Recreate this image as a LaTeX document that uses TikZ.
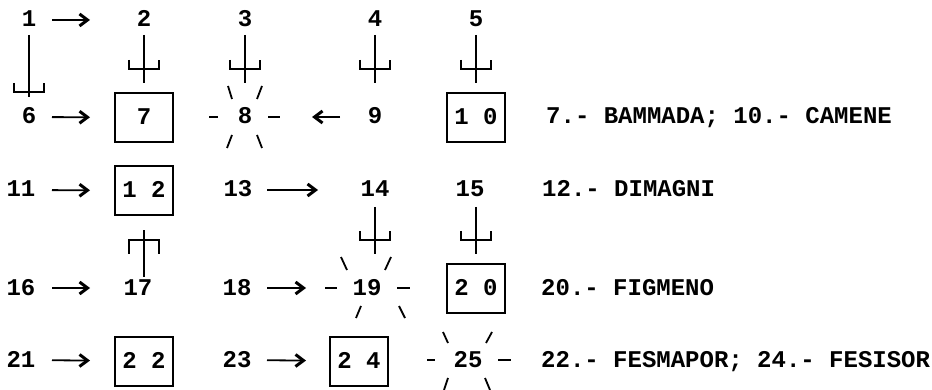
\documentclass[tikz,border=0pt]{standalone}
\usepackage{fontspec}
\newfontfamily\tw{Liberation Mono}
\usetikzlibrary{arrows.meta}
\begin{document}
\begin{tikzpicture}[x=1pt,y=-1pt,
  lab/.style={font=\tw\bfseries\fontsize{24}{24}\selectfont, inner sep=0pt, text height=14pt, text depth=0pt},
  boxnode/.style={lab, draw, line width=2pt, minimum width=58pt, minimum height=49pt},
  arr/.style={line width=1.8pt, -{Straight Barb[length=8pt,width=12pt,line width=3pt]}},
  stem/.style={line width=2pt},
  ray/.style={line width=1.8pt},
  forkup/.pic={\draw[line width=2pt] (-15,-9) -- (-15,0) -- (15,0) -- (15,-9);},
  forkdown/.pic={\draw[line width=2pt] (-15,14) -- (-15,0) -- (15,0) -- (15,14);}
]
\useasboundingbox (0,0) rectangle (932,390);
% row 1
\node[lab] (n1) at (29,20) {1};
\node[lab] (n2) at (144,20) {2};
\node[lab] (n3) at (245,20) {3};
\node[lab] (n4) at (375,20) {4};
\node[lab] (n5) at (476,20) {5};
% row 2
\node[lab] (n6) at (29,117) {6};
\node[boxnode] (n7) at (144,117.5) {7};
\node[lab] (n8) at (245,117) {8};
\node[lab] (n9) at (375,117) {9};
\node[boxnode] (n10) at (476,117.5) {1 0};
\node[lab, anchor=west] (t1) at (546,117) {7.- BAMMADA; 10.- CAMENE};
% row 3
\node[lab] (n11) at (21,190) {11};
\node[boxnode] (n12) at (144,190.5) {1 2};
\node[lab] (n13) at (238,190) {13};
\node[lab] (n14) at (375,190) {14};
\node[lab] (n15) at (470,190) {15};
\node[lab, anchor=west] (t2) at (542,190) {12.- DIMAGNI};
% row 4
\node[lab] (n16) at (21,288) {16};
\node[lab] (n17) at (138,288) {17};
\node[lab] (n18) at (237,288) {18};
\node[lab] (n19) at (367,288) {19};
\node[boxnode] (n20) at (476,288.5) {2 0};
\node[lab, anchor=west] (t3) at (541,288) {20.- FIGMENO};
% row 5
\node[lab] (n21) at (21,360) {21};
\node[boxnode] (n22) at (144,361) {2 2};
\node[lab] (n23) at (237,360) {23};
\node[boxnode] (n24) at (359,361) {2 4};
\node[lab] (n25) at (468,360) {25};
\node[lab, anchor=west] (t4) at (541,360) {22.- FESMAPOR; 24.- FESISOR};

% horizontal arrows
\draw[arr, shorten <=23pt, shorten >=54pt] (n1.center) -- (n2.center);
\draw[arr, shorten <=23pt, shorten >=54pt] (n6.center) -- (n7.center);
\draw[arr, shorten <=35pt, shorten >=67pt] (n9.center) -- (n8.center);
\draw[arr, shorten <=31pt, shorten >=54pt] (n11.center) -- (n12.center);
\draw[arr, shorten <=29pt, shorten >=57pt] (n13.center) -- (n14.center);
\draw[arr, shorten <=31pt, shorten >=48pt] (n16.center) -- (n17.center);
\draw[arr, shorten <=30pt, shorten >=61pt] (n18.center) -- (n19.center);
\draw[arr, shorten <=31pt, shorten >=54pt] (n21.center) -- (n22.center);
\draw[arr, shorten <=30pt, shorten >=53pt] (n23.center) -- (n24.center);

% vertical stems with forks
\draw[stem, shorten <=15pt, shorten >=20pt] (n1.center) -- (n6.center);
\pic at ([yshift=-72pt]n1.center) {forkup};
\foreach \a/\b in {n2/n7, n3/n8, n4/n9, n5/n10}{
  \draw[stem, shorten <=15pt, shorten >=34pt] (\a.center) -- (\a.center |- \b.center);
  \pic at ([yshift=-49pt]\a.center) {forkup};
}
\draw[stem, shorten <=17pt, shorten >=34pt] (n14.center) -- (n14.center |- n19.center);
\pic at ([yshift=-50pt]n14.center) {forkup};
\draw[stem, shorten <=17pt, shorten >=34.5pt] (n15.center -| n20.center) -- (n20.center);
\pic at ([yshift=-50pt]n15.center -| n20.center) {forkup};
\draw[stem, shorten <=11pt, shorten >=39.5pt] (n17.center -| n12.center) -- (n12.center);
\pic at ([yshift=-49.5pt]n12.center) {forkdown};

% stars
\foreach \a/\b/\c/\d in {-36/0/-27/0, 23/0/35/0, -17/-31/-13/-18, 17/-31/12/-18, -18/31/-13/18, 17/31/12/18}
  \draw[ray] ([shift={(\a,\b)}]n8.center) -- ([shift={(\c,\d)}]n8.center);
\foreach \a/\b/\c/\d in {-42/0/-30/0, 30/0/43/0, -26/-31/-20/-18, 24/-31/18/-18, -11/30/-6/18, 38/30/32/18}
  \draw[ray] ([shift={(\a,\b)}]n19.center) -- ([shift={(\c,\d)}]n19.center);
\foreach \a/\b/\c/\d in {-41/0/-33/0, 30/0/43/0, -25/-28/-20/-17, 24/-28/18/-17, -24/30/-20/18, 22/30/17/18}
  \draw[ray] ([shift={(\a,\b)}]n25.center) -- ([shift={(\c,\d)}]n25.center);
\end{tikzpicture}
\end{document}
